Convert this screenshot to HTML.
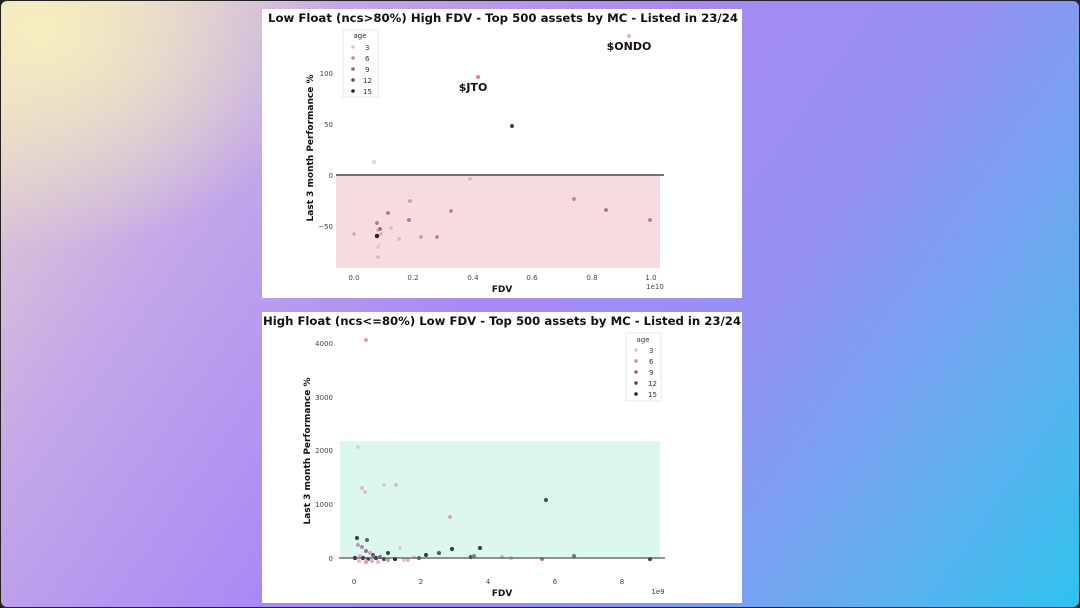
<!DOCTYPE html>
<html><head><meta charset="utf-8"><style>
html,body{margin:0;padding:0;width:1080px;height:608px;overflow:hidden;background:#222;}
#bg{position:absolute;left:1px;top:1px;width:1078px;height:606px;border-radius:6px;
background:radial-gradient(ellipse 300px 220px at 40px 30px,rgba(246,238,190,1),rgba(246,238,190,0) 100%),linear-gradient(125deg,#e8d8cc 0%,#c4a8e8 22%,#a98af5 45%,#9590f2 65%,#62aef0 85%,#2fc2ee 100%);}
svg{position:absolute;left:0;top:0;font-family:"DejaVu Sans","Liberation Sans",sans-serif;}
</style></head><body>
<div id="bg"></div>
<svg width="1080" height="608" viewBox="0 0 1080 608">
<!-- top panel -->
<rect x="262" y="9" width="480" height="289" fill="#fff"/>
<text x="503" y="22" text-anchor="middle" font-size="11.7" font-weight="bold" fill="#111" textLength="470" lengthAdjust="spacingAndGlyphs">Low Float (ncs&gt;80%) High FDV - Top 500 assets by MC - Listed in 23/24</text>
<rect x="336" y="175" width="324" height="93" fill="#f7dcdf"/>
<line x1="336" y1="175" x2="664" y2="175" stroke="#222" stroke-width="1.3"/>
<g font-size="7" fill="#444" text-anchor="end">
<text x="333" y="76">100</text><text x="333" y="127">50</text><text x="333" y="178">0</text><text x="333" y="229">−50</text>
</g>
<g font-size="7" fill="#444" text-anchor="middle">
<text x="354" y="280">0.0</text><text x="413" y="280">0.2</text><text x="473" y="280">0.4</text><text x="532" y="280">0.6</text><text x="592" y="280">0.8</text><text x="651" y="280">1.0</text>
<text x="655" y="289">1e10</text>
</g>
<text x="502" y="292" text-anchor="middle" font-size="9" font-weight="bold" fill="#111">FDV</text>
<text transform="translate(313,148) rotate(-90)" text-anchor="middle" font-size="9" font-weight="bold" fill="#111">Last 3 month Performance %</text>
<text x="629" y="50" text-anchor="middle" font-size="11" font-weight="bold" fill="#111">$ONDO</text>
<text x="473" y="91" text-anchor="middle" font-size="11" font-weight="bold" fill="#111">$JTO</text>
<g stroke="#fff" stroke-width="0.4">
<circle cx="629" cy="36" r="2.3" fill="#e6b3c0"/>
<circle cx="478" cy="77" r="2.3" fill="#d08a9f"/>
<circle cx="512" cy="126" r="2.3" fill="#5a3a5a"/>
<circle cx="374" cy="162" r="2.3" fill="#f0cfd5"/>
<circle cx="470" cy="179" r="2.3" fill="#e6b3c0"/>
<circle cx="410" cy="201" r="2.3" fill="#d898a8"/>
<circle cx="388" cy="213" r="2.3" fill="#c07890"/>
<circle cx="451" cy="211" r="2.3" fill="#c98599"/>
<circle cx="409" cy="220" r="2.3" fill="#c07890"/>
<circle cx="377" cy="223" r="2.3" fill="#c07890"/>
<circle cx="378" cy="230" r="2.3" fill="#e0a8b6"/>
<circle cx="380" cy="229" r="2.3" fill="#b06a86"/>
<circle cx="391" cy="228" r="2.3" fill="#e6b3c0"/>
<circle cx="354" cy="234" r="2.3" fill="#e0a8b6"/>
<circle cx="381" cy="234" r="2.3" fill="#e6b3c0"/>
<circle cx="377" cy="236" r="2.5" fill="#3a1e38"/>
<circle cx="399" cy="239" r="2.3" fill="#e6b3c0"/>
<circle cx="421" cy="237" r="2.3" fill="#d898a8"/>
<circle cx="437" cy="237" r="2.3" fill="#c98599"/>
<circle cx="379" cy="245" r="2.3" fill="#ecc2cc"/>
<circle cx="378" cy="247" r="2.3" fill="#ecc2cc"/>
<circle cx="378" cy="257" r="2.3" fill="#e6b3c0"/>
<circle cx="574" cy="199" r="2.3" fill="#c98599"/>
<circle cx="606" cy="210" r="2.3" fill="#b8748e"/>
<circle cx="650" cy="220" r="2.3" fill="#c07890"/>
</g>
<rect x="343" y="30" width="35" height="67" fill="#fff" stroke="#ddd" stroke-width="0.6"/>
<g font-size="7" fill="#333">
<text x="360" y="38" text-anchor="middle">age</text>
<text x="365" y="50">3</text><text x="365" y="61">6</text><text x="365" y="72">9</text><text x="363" y="83">12</text><text x="363" y="94">15</text>
</g>
<circle cx="353" cy="47" r="1.8" fill="#ecc2cc"/><circle cx="353" cy="58" r="1.8" fill="#d08a9f"/><circle cx="353" cy="69" r="1.8" fill="#a05c82"/><circle cx="353" cy="80" r="1.8" fill="#6b3d66"/><circle cx="353" cy="91" r="1.8" fill="#2d1e3e"/>

<!-- bottom panel -->
<rect x="262" y="312" width="480" height="291" fill="#fff"/>
<text x="502" y="325" text-anchor="middle" font-size="11.7" font-weight="bold" fill="#111" textLength="478" lengthAdjust="spacingAndGlyphs">High Float (ncs&lt;=80%) Low FDV - Top 500 assets by MC - Listed in 23/24</text>
<rect x="340" y="441" width="320" height="117" fill="#dcf7ee"/>
<g font-size="7" fill="#444" text-anchor="end">
<text x="333" y="346">4000</text><text x="333" y="400">3000</text><text x="333" y="453">2000</text><text x="333" y="507">1000</text><text x="333" y="561">0</text>
</g>
<g font-size="7" fill="#444" text-anchor="middle">
<text x="354" y="584">0</text><text x="421" y="584">2</text><text x="488" y="584">4</text><text x="555" y="584">6</text><text x="622" y="584">8</text>
<text x="658" y="594">1e9</text>
</g>
<text x="502" y="596" text-anchor="middle" font-size="9" font-weight="bold" fill="#111">FDV</text>
<text transform="translate(310,451) rotate(-90)" text-anchor="middle" font-size="9" font-weight="bold" fill="#111">Last 3 month Performance %</text>
<g stroke="#fff" stroke-width="0.4">
<circle cx="366" cy="340" r="2.3" fill="#e0a0b0"/>
<circle cx="358" cy="447" r="2.3" fill="#c8d8cf"/>
<circle cx="362" cy="488" r="2.3" fill="#d8b8c0"/>
<circle cx="365" cy="492" r="2.3" fill="#d8c0c6"/>
<circle cx="384" cy="485" r="2.3" fill="#c8d0cc"/>
<circle cx="396" cy="485" r="2.3" fill="#d0c0c6"/>
<circle cx="450" cy="517" r="2.3" fill="#d4a8b4"/>
<circle cx="546" cy="500" r="2.3" fill="#3d5656"/>
<circle cx="400" cy="548" r="2.3" fill="#c8d8cf"/>
<circle cx="357" cy="538" r="2.3" fill="#2f4545"/>
<circle cx="367" cy="540" r="2.3" fill="#5a6a6e"/>
<circle cx="358" cy="545" r="2.3" fill="#a0a8b0"/>
<circle cx="362" cy="547" r="2.3" fill="#a090a6"/>
<circle cx="366" cy="551" r="2.3" fill="#8a7a96"/>
<circle cx="370" cy="553" r="2.3" fill="#c0a8b8"/>
<circle cx="373" cy="555" r="2.3" fill="#6a5a78"/>
<circle cx="360" cy="556" r="2.3" fill="#d8b0c0"/>
<circle cx="355" cy="558" r="2.3" fill="#2d1e3e"/>
<circle cx="363" cy="558" r="2.3" fill="#3a2e4a"/>
<circle cx="368" cy="559" r="2.3" fill="#4a3a5a"/>
<circle cx="376" cy="558" r="2.3" fill="#2d1e3e"/>
<circle cx="380" cy="557" r="2.3" fill="#8a6a90"/>
<circle cx="384" cy="559" r="2.3" fill="#5a3a66"/>
<circle cx="372" cy="561" r="2.3" fill="#e0b0c0"/>
<circle cx="378" cy="562" r="2.3" fill="#e8c0cc"/>
<circle cx="359" cy="561" r="2.3" fill="#e8c0cc"/>
<circle cx="366" cy="562" r="2.3" fill="#d8a0b4"/>
<circle cx="388" cy="553" r="2.3" fill="#3a4e50"/>
<circle cx="388" cy="560" r="2.3" fill="#c8a0b4"/>
<circle cx="395" cy="559" r="2.3" fill="#2d1e3e"/>
<circle cx="404" cy="560" r="2.3" fill="#e8c0cc"/>
<circle cx="408" cy="560" r="2.3" fill="#e8b8c6"/>
<circle cx="414" cy="557" r="2.3" fill="#e0c8cc"/>
<circle cx="419" cy="558" r="2.3" fill="#7a5a80"/>
<circle cx="426" cy="555" r="2.3" fill="#2f4545"/>
<circle cx="439" cy="553" r="2.3" fill="#4a6060"/>
<circle cx="452" cy="549" r="2.3" fill="#2a3e3e"/>
<circle cx="471" cy="557" r="2.3" fill="#3a3040"/>
<circle cx="474" cy="556" r="2.3" fill="#7a8a8a"/>
<circle cx="480" cy="548" r="2.3" fill="#2f4545"/>
<circle cx="502" cy="557" r="2.3" fill="#b0c0bc"/>
<circle cx="511" cy="558" r="2.3" fill="#c0c8c4"/>
<circle cx="542" cy="559" r="2.3" fill="#c86a86"/>
<circle cx="574" cy="556" r="2.3" fill="#6a7a7a"/>
<circle cx="650" cy="559" r="2.3" fill="#3a4444"/>
</g>
<line x1="339" y1="558" x2="665" y2="558" stroke="#555" stroke-width="1.3"/>
<rect x="626" y="333" width="35" height="68" fill="#fff" stroke="#ddd" stroke-width="0.6"/>
<g font-size="7" fill="#333">
<text x="643" y="342" text-anchor="middle">age</text>
<text x="649" y="353">3</text><text x="649" y="364">6</text><text x="649" y="375">9</text><text x="648" y="386">12</text><text x="648" y="397">15</text>
</g>
<circle cx="636" cy="350" r="1.8" fill="#ecc2cc"/><circle cx="636" cy="361" r="1.8" fill="#d08a9f"/><circle cx="636" cy="372" r="1.8" fill="#a05c82"/><circle cx="636" cy="383" r="1.8" fill="#6b3d66"/><circle cx="636" cy="394" r="1.8" fill="#2d1e3e"/>
</svg>
</body></html>
